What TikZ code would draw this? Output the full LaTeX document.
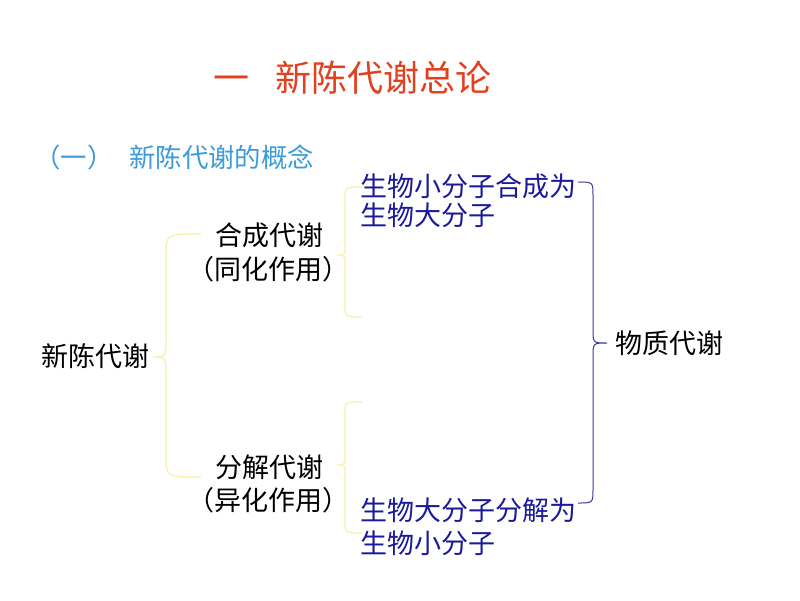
\documentclass[tikz,border=0pt]{standalone}
\usepackage{fontspec}
\setmainfont{Noto Sans CJK SC}
\definecolor{titred}{HTML}{E2401E}
\definecolor{subblue}{HTML}{3C9BDA}
\definecolor{txtblue}{HTML}{1A1A9A}
\definecolor{brblue}{HTML}{3A3A9E}
\definecolor{bryel}{HTML}{F6F0A8}
\tikzset{
  lbl/.style={inner sep=0pt, anchor=west, font=\fontsize{27}{31}\selectfont},
  bluelbl/.style={lbl, text=txtblue},
  ybrace/.style={draw=bryel, line width=1.2pt},
  bbrace/.style={draw=brblue, line width=1pt},
}
% left-pointing brace: xe (ends), xv (vertical), xt (tip), ytop, ym, ybot, r
\newcommand\myBrace[8]{%
  \draw[#1] (#2,#5) .. controls (#3,#5) .. (#3,#5+#8) -- (#3,#6-#8)
    .. controls (#3,#6) .. (#4,#6) .. controls (#3,#6) .. (#3,#6+#8)
    -- (#3,#7-#8) .. controls (#3,#7) .. (#2,#7);}
\begin{document}
\begin{tikzpicture}[x=1pt,y=-1pt]
\useasboundingbox[fill=white] (0,0) rectangle (800,600);
\node[lbl, text=titred, font=\fontsize{36}{42}\selectfont] (title) at (213,78) {一\hspace{26pt}新陈代谢总论};
\node[lbl, text=subblue, font=\fontsize{26.4}{31}\selectfont] (sub) at (34,157) {（一）\hspace{16pt}新陈代谢的概念};
\node[lbl] (xc) at (41,356) {新陈代谢};
\node[lbl] (hc) at (215,235) {合成代谢};
\node[lbl, anchor=center] (th) at (268,269) {（同化作用）};
\node[lbl] (fj) at (215,467) {分解代谢};
\node[lbl, anchor=center] (yh) at (268,500) {（异化作用）};
\node[bluelbl] (b1) at (360,186) {生物小分子合成为};
\node[bluelbl] (b2) at (360,215) {生物大分子};
\node[bluelbl] (b3) at (360,510) {生物大分子分解为};
\node[bluelbl] (b4) at (360,543) {生物小分子};
\node[lbl] (wz) at (615,343) {物质代谢};
% braces
\myBrace{ybrace}{201}{166}{153}{234}{357}{477}{22}
\myBrace{ybrace}{362}{345}{337}{187}{255}{317}{12}
\myBrace{ybrace}{362}{345}{337}{402}{465}{533}{12}
\myBrace{bbrace}{578}{593}{607}{182}{343}{503}{14}
\end{tikzpicture}
\end{document}
